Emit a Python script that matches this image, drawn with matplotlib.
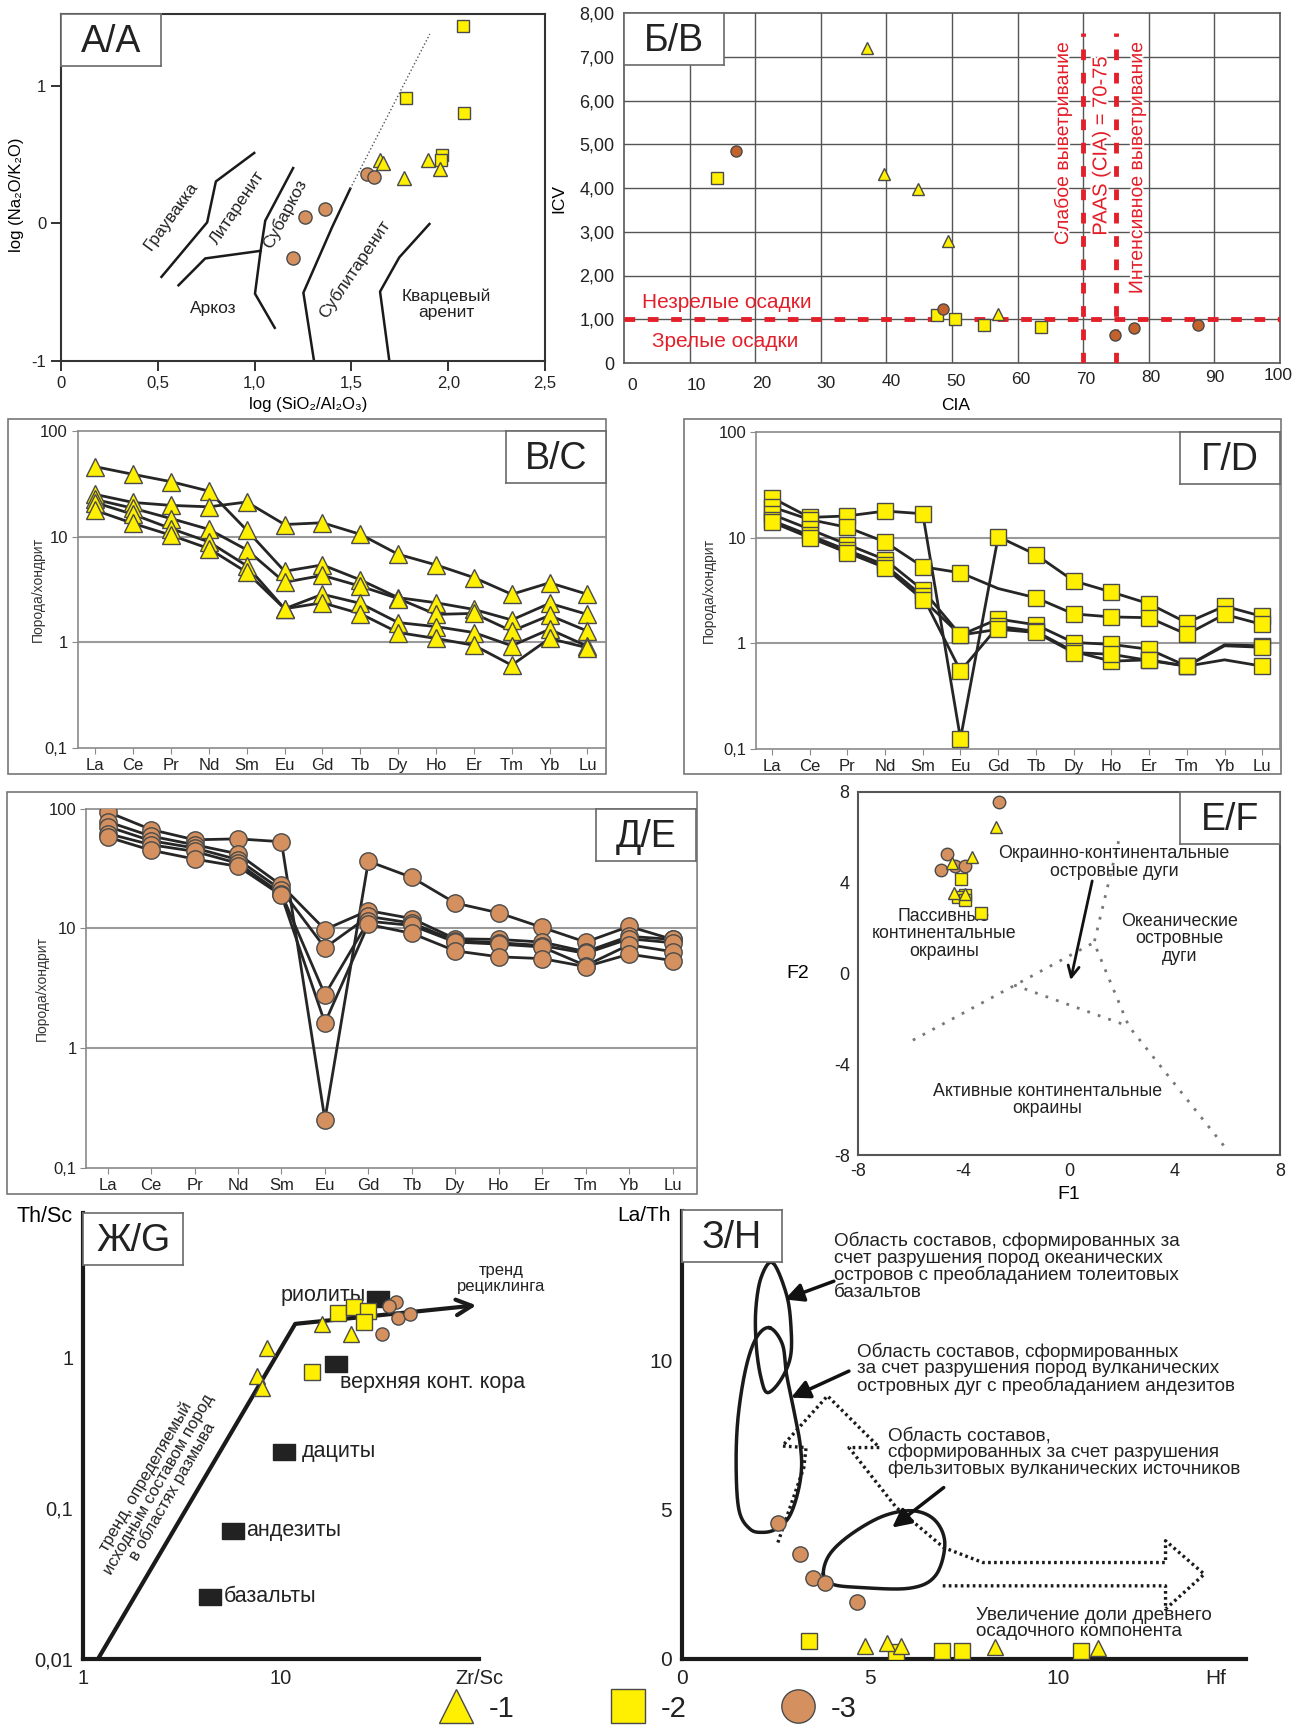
import numpy as np
import matplotlib
matplotlib.use('Agg')
import matplotlib.pyplot as plt
import matplotlib.patheffects as pe
from matplotlib.patches import Rectangle
from matplotlib.ticker import NullLocator

plt.rcParams['font.family'] = ['Liberation Sans', 'DejaVu Sans']

W, H = 1298, 1728
YELLOW = '#ffef00'
BROWN = '#d4915f'
RUST = '#c3622c'
MEC = '#4a4a4a'
RED = '#e3202a'
INK = '#222222'

# ---------------- data ----------------
# A: log(SiO2/Al2O3) vs log(Na2O/K2O)
pa_tri_x = [1.648, 1.662, 1.770, 1.895, 1.958]
pa_tri_y = [0.457, 0.438, 0.331, 0.462, 0.397]
pa_sq_x = [2.076, 1.784, 2.084, 1.968, 1.962]
pa_sq_y = [1.43, 0.912, 0.803, 0.494, 0.457]
pa_ci_x = [1.583, 1.617, 1.258, 1.366, 1.199]
pa_ci_y = [0.360, 0.336, 0.044, 0.105, -0.255]

# Б: CIA vs ICV
pb_tri_x = [37.0, 39.7, 44.8, 49.4, 57.0]
pb_tri_y = [7.19, 4.33, 3.98, 2.80, 1.11]
pb_sq_x = [14.2, 47.7, 50.5, 54.9, 63.5]
pb_sq_y = [4.22, 1.10, 1.00, 0.86, 0.82]
pb_ci_x = [17.0, 48.6, 74.9, 77.7, 87.5]
pb_ci_y = [4.85, 1.23, 0.65, 0.79, 0.87]

# REE spectra, chondrite normalised
REE = ['La', 'Ce', 'Pr', 'Nd', 'Sm', 'Eu', 'Gd', 'Tb', 'Dy', 'Ho', 'Er', 'Tm', 'Yb', 'Lu']
pc_1 = [45.7, 38.7, 33.0, 26.9, 11.5, 4.7, 5.4, 3.9, 2.65, 2.37, 2.05, 1.63, 2.34, 1.84]
pc_2 = [25.0, 21.0, 19.7, 19.1, 21.2, 13.0, 13.5, 10.5, 6.8, 5.4, 4.1, 2.85, 3.66, 2.85]
pc_3 = [22.4, 18.5, 14.8, 11.7, 7.5, 3.7, 4.3, 3.4, 2.6, 1.84, 1.88, 1.28, 1.80, 1.28]
pc_4 = [20.9, 16.2, 11.9, 8.9, 5.3, 2.08, 2.85, 2.34, 1.54, 1.41, 1.24, 0.93, 1.33, 0.92]
pc_5 = [17.7, 13.3, 10.3, 7.7, 4.6, 2.08, 2.37, 1.87, 1.24, 1.09, 0.94, 0.61, 1.09, 0.89]

pd_1 = [23.8, 15.5, 16.0, 17.8, 16.8, 0.126, 10.2, 6.9, 3.9, 3.06, 2.37, 1.57, 2.25, 1.80]
pd_2 = [19.5, 14.8, 12.5, 9.1, 5.3, 4.65, 3.3, 2.7, 1.9, 1.78, 1.75, 1.22, 1.88, 1.51]
pd_3 = [16.6, 12.0, 8.6, 6.2, 3.2, 1.2, 1.7, 1.5, 1.02, 0.98, 0.88, 0.61, 0.97, 0.95]
pd_4 = [14.5, 10.5, 7.6, 5.5, 2.8, 0.55, 1.45, 1.3, 0.84, 0.68, 0.70, 0.61, 0.70, 0.61]
pd_5 = [14.0, 10.0, 7.2, 5.2, 2.6, 1.2, 1.36, 1.27, 0.82, 0.79, 0.69, 0.61, 0.95, 0.92]
pd_nomark = [(1, 6), (2, 12), (3, 12), (4, 12)]

pe_1 = [94, 67, 55, 56, 53, 0.254, 36.4, 26.7, 16.3, 13.5, 10.2, 7.7, 10.4, 8.1]
pe_2 = [78, 59, 50, 42, 22.9, 9.8, 14.1, 12.1, 8.2, 8.1, 7.7, 6.4, 8.6, 8.1]
pe_3 = [71, 54, 47, 37.5, 21.0, 6.9, 12.6, 11.1, 7.9, 7.6, 7.2, 6.2, 8.2, 7.6]
pe_4 = [62, 50, 44, 35, 19.5, 2.8, 11.5, 10.6, 7.7, 7.4, 7.0, 4.9, 7.3, 6.4]
pe_5 = [58, 45, 38, 33, 18.9, 1.63, 10.8, 9.1, 6.5, 5.8, 5.6, 4.8, 6.1, 5.4]

# Е: discriminant functions F1-F2
pf_ci_x = [-2.64, -4.61, -4.85, -4.32, -3.94]
pf_ci_y = [7.55, 5.25, 4.56, 4.74, 4.74]
pf_tri_x = [-2.76, -4.42, -3.67, -4.36, -3.96]
pf_tri_y = [6.44, 4.88, 5.15, 3.53, 3.50]
pf_sq_x = [-4.10, -3.93, -4.19, -3.93, -3.34]
pf_sq_y = [4.15, 3.47, 3.35, 3.25, 2.65]

# Ж: Zr/Sc vs Th/Sc
pg_tri_x = [8.53, 7.59, 8.05, 16.1, 22.5]
pg_tri_y = [1.16, 0.756, 0.633, 1.68, 1.43]
pg_sq_x = [14.3, 19.5, 23.3, 27.4, 26.4]
pg_sq_y = [0.807, 1.97, 2.18, 2.04, 1.73]
pg_ci_x = [37.9, 35.1, 39.0, 45.0, 32.5]
pg_ci_y = [2.34, 2.22, 1.84, 1.96, 1.43]
pg_ref_names = ['риолиты', 'верхняя конт. кора', 'дациты', 'андезиты', 'базальты']
pg_ref_x = [31.0, 18.9, 10.4, 5.73, 4.36]
pg_ref_y = [2.47, 0.912, 0.238, 0.071, 0.0259]

# З: Hf vs La/Th
ph_ci_x = [2.55, 3.13, 3.49, 3.81, 4.65]
ph_ci_y = [4.57, 3.53, 2.71, 2.53, 1.90]
ph_sq_x = [3.39, 5.70, 6.91, 7.46, 10.6]
ph_sq_y = [0.59, 0.22, 0.28, 0.28, 0.26]
ph_tri_x = [4.88, 5.45, 5.82, 8.32, 11.07]
ph_tri_y = [0.45, 0.52, 0.45, 0.41, 0.36]

fig = plt.figure(figsize=(W / 100, H / 100), dpi=100)

# pixel canvas for frames and the legend
canvas = fig.add_axes([0, 0, 1, 1])
canvas.set_xlim(0, W)
canvas.set_ylim(H, 0)
canvas.axis('off')


def px_axes(x0, y0, x1, y1):
    return fig.add_axes([x0 / W, 1 - y1 / H, (x1 - x0) / W, (y1 - y0) / H])


def tag(x0, y0, text):
    t = px_axes(x0, y0, x0 + 100, y0 + 52)
    t.set_xticks([])
    t.set_yticks([])
    for s in t.spines.values():
        s.set_color('#6a6a6a')
        s.set_linewidth(1.2)
    t.text(0.5, 0.47, text, ha='center', va='center', fontsize=27, color=INK,
           transform=t.transAxes)


def pts(ax, x, y, marker, ms, fc, **kw):
    ax.plot(x, y, ls='none', marker=marker, ms=ms, mfc=fc, mec=MEC, mew=1, **kw)


def closed_curve(p, n=16):
    p = np.asarray(p, float)
    m = len(p)
    t = np.linspace(0, 1, n, endpoint=False)[:, None]
    out = []
    for i in range(m):
        p0, p1, p2, p3 = p[i - 1], p[i], p[(i + 1) % m], p[(i + 2) % m]
        out.append(0.5 * (2 * p1 + (-p0 + p2) * t + (2 * p0 - 5 * p1 + 4 * p2 - p3) * t ** 2
                          + (-p0 + 3 * p1 - 3 * p2 + p3) * t ** 3))
    out = np.vstack(out)
    return np.vstack([out, out[:1]])


# ---------------- A ----------------
ax = px_axes(61, 14, 545, 361)
ax.set_xlim(0, 2.5)
ax.set_ylim(-1, 1.52)
for s in ax.spines.values():
    s.set_linewidth(1.5)
    s.set_color('#333')
ax.set_xticks([0, 0.5, 1, 1.5, 2, 2.5], ['0', '0,5', '1,0', '1,5', '2,0', '2,5'])
ax.set_yticks([-1, 0, 1], ['-1', '0', '1'])
ax.tick_params(direction='out', length=7, width=1.3, labelsize=12, colors='#222')
ax.set_xlabel('log (SiO₂/Al₂O₃)', fontsize=12)
ax.set_ylabel('log (Na₂O/K₂O)', fontsize=12)
ax.xaxis.set_label_coords(0.51, -0.105)
ax.yaxis.set_label_coords(-0.076, 0.48)
bounds = [
    [(0.519, -0.389), (0.755, 0.007), (0.800, 0.304), (0.998, 0.511)],
    [(1.199, 0.401), (1.055, 0.019), (1.031, -0.200), (1.002, -0.511), (1.104, -0.759)],
    [(0.607, -0.450), (0.745, -0.255), (1.031, -0.200)],
    [(1.494, 0.251), (1.400, -0.029), (1.252, -0.504), (1.307, -1.0)],
    [(1.903, -0.005), (1.747, -0.248), (1.648, -0.496), (1.696, -1.0)],
]
for b in bounds:
    bx, by = zip(*b)
    ax.plot(bx, by, color='#1a1a1a', lw=1.8)
ax.plot([1.494, 1.905], [0.251, 1.375], color='#555', lw=1, ls=':')
for txt, x, y, rot in [('Граувакка', 0.568, 0.056, 54), ('Литаренит', 0.913, 0.117, 56),
                       ('Субаркоз', 1.155, 0.068, 62), ('Сублитаренит', 1.514, -0.333, 56)]:
    ax.text(x, y, txt, rotation=rot, ha='center', va='center', fontsize=12.5,
            rotation_mode='anchor', color=INK)
ax.text(0.785, -0.618, 'Аркоз', ha='center', va='center', fontsize=12.5, color=INK)
ax.text(1.991, -0.589, 'Кварцевый\nаренит', ha='center', va='center', fontsize=12.5,
        linespacing=1.05, color=INK)
pts(ax, pa_sq_x, pa_sq_y, 's', 8.7, YELLOW, zorder=4)
pts(ax, pa_tri_x, pa_tri_y, '^', 10.5, YELLOW, zorder=4)
pts(ax, pa_ci_x, pa_ci_y, 'o', 9.5, BROWN, zorder=4)
tag(61, 14, 'А/A')

# ---------------- Б ----------------
ax = px_axes(624, 13, 1280, 363)
ax.set_xlim(0, 100)
ax.set_ylim(0, 8)
for v in range(10, 100, 10):
    ax.axvline(v, color='#555', lw=1, zorder=1)
for v in range(1, 8):
    ax.axhline(v, color='#555', lw=1, zorder=1)
for s in ax.spines.values():
    s.set_color('#555')
    s.set_linewidth(1.2)
ax.set_xticks([])
ax.set_yticks(range(0, 9), ['0'] + ['%d,00' % v for v in range(1, 9)])
ax.tick_params(length=0, labelsize=13, pad=7, colors='#222')
for v in range(0, 101, 10):
    ax.annotate(str(v), xy=(v, 0), xycoords=('data', 'axes fraction'),
                xytext=(8 * (1 - v / 100) - 2 * (v == 100), -23 + 10 * v / 100),
                textcoords='offset pixels', ha='center', va='center', fontsize=12.5, color='#222')
ax.text(0.505, -0.12, 'CIA', transform=ax.transAxes, ha='center', va='center', fontsize=12.5)
ax.set_ylabel('ICV', fontsize=12.5)
ax.yaxis.set_label_coords(-0.088, 0.47)
ax.axhline(1, color=RED, lw=3.5, dashes=(2.2, 2.6), zorder=5)
for v in (70, 75):
    ax.plot([v, v], [0, 7.55], color=RED, lw=3.5, dashes=(2.2, 2.6), zorder=5)
ax.text(15.7, 1.38, 'Незрелые осадки', color=RED, fontsize=15, ha='center', va='center')
ax.text(15.4, 0.50, 'Зрелые осадки', color=RED, fontsize=15, ha='center', va='center')
halo = [pe.withStroke(linewidth=3, foreground='white')]
ax.text(66.9, 5.03, 'Слабое выветривание', color=RED, fontsize=14, rotation=90,
        ha='center', va='center', path_effects=halo, zorder=4)
ax.text(72.7, 4.95, 'PAAS (CIA) = 70-75', color=RED, fontsize=14.5, rotation=90,
        ha='center', va='center', path_effects=halo, zorder=4)
ax.text(78.3, 4.48, 'Интенсивное выветривание', color=RED, fontsize=14, rotation=90,
        ha='center', va='center', path_effects=halo, zorder=4)
pts(ax, pb_tri_x, pb_tri_y, '^', 8, YELLOW, zorder=6)
pts(ax, pb_sq_x, pb_sq_y, 's', 8, YELLOW, zorder=6)
pts(ax, pb_ci_x, pb_ci_y, 'o', 8, RUST, zorder=6)
tag(624, 13, 'Б/В')


# ---------------- REE panels ----------------
def ree_panel(box, xlim, series, marker, ms, fc, ylab_x, nomark=()):
    ax = px_axes(*box)
    x = np.arange(len(REE))
    for s in series:
        ax.plot(x, s, color='#262626', lw=2, zorder=3)
    for i, s in enumerate(series):
        keep = [j for j in range(len(REE)) if (i, j) not in nomark]
        pts(ax, x[keep], np.asarray(s)[keep], marker, ms, fc, zorder=4)
    ax.set_yscale('log')
    ax.set_ylim(0.1, 100)
    ax.set_xlim(*xlim)
    ax.set_yticks([0.1, 1, 10, 100], ['0,1', '1', '10', '100'])
    ax.yaxis.set_minor_locator(NullLocator())
    ax.set_xticks(x, REE)
    for v in (1, 10):
        ax.axhline(v, color='#9a9a9a', lw=1.5, zorder=1)
    for s in ax.spines.values():
        s.set_color('#8a8a8a')
        s.set_linewidth(1.2)
    ax.tick_params(length=4, color='#8a8a8a', labelsize=12, pad=3, labelcolor='#222')
    ax.set_ylabel('Порода/хондрит', fontsize=10, color='#333')
    ax.yaxis.set_label_coords(ylab_x, 0.5)
    return ax


canvas.add_patch(Rectangle((8, 419), 598, 355, fill=False, ec='#777', lw=1.2))
ree_panel((77.5, 430.7, 606, 748.3), (-0.47, 13.49), [pc_1, pc_2, pc_3, pc_4, pc_5],
          '^', 12.5, YELLOW, -0.062)
tag(506, 431, 'В/C')

canvas.add_patch(Rectangle((684, 419.3), 597, 354.7, fill=False, ec='#777', lw=1.2))
ree_panel((756, 431.7, 1280, 749.3), (-0.42, 13.47), [pd_1, pd_2, pd_3, pd_4, pd_5],
          's', 12, YELLOW, -0.076, nomark=pd_nomark)
tag(1180, 432, 'Г/D')

canvas.add_patch(Rectangle((7.3, 792), 689.2, 402, fill=False, ec='#777', lw=1.2))
ree_panel((86.3, 808.7, 696.5, 1168), (-0.49, 13.55), [pe_1, pe_2, pe_3, pe_4, pe_5],
          'o', 12.5, BROWN, -0.061)
tag(596, 809, 'Д/E')

# ---------------- Е ----------------
ax = px_axes(858, 792, 1280, 1155)
ax.set_xlim(-8, 8)
ax.set_ylim(-8, 8)
for s in ax.spines.values():
    s.set_color('#555')
    s.set_linewidth(1.5)
ticks = [-8, -4, 0, 4, 8]
ax.set_xticks(ticks, [str(v) for v in ticks])
ax.set_yticks(ticks, [str(v) for v in ticks])
ax.tick_params(which='major', length=0, labelsize=13, pad=6, labelcolor='#222')
ax.set_xticks([-4, 0, 4], minor=True)
ax.set_yticks([-4, 0, 4], minor=True)
ax.tick_params(which='minor', direction='in', length=8, width=3.5, color='#111')
ax.set_xlabel('F1', fontsize=14)
ax.xaxis.set_label_coords(0.5, -0.085)
ax.set_ylabel('F2', fontsize=14, rotation=0, va='center')
ax.yaxis.set_label_coords(-0.142, 0.5)
for seg in [[(-5.92, -2.94), (0.97, 1.38)],
            [(1.88, 5.83), (0.95, 1.35), (2.27, -2.33), (5.91, -7.65)],
            [(-2.08, -0.51), (2.27, -2.33)]]:
    sx, sy = zip(*seg)
    ax.plot(sx, sy, color='#777', lw=2, dashes=(1, 3))
ax.annotate('', xy=(0.06, -0.29), xytext=(0.88, 4.08),
            arrowprops=dict(arrowstyle='->', lw=2, color='#111', mutation_scale=20,
                            shrinkA=0, shrinkB=0))
etxt = dict(ha='center', va='center', fontsize=12.8, linespacing=1.05, color=INK)
ax.text(1.71, 4.88, 'Окраинно-континентальные\nостровные дуги', **etxt)
ax.text(-4.75, 1.75, 'Пассивные\nконтинентальные\nокраины', **etxt)
ax.text(4.18, 1.53, 'Океанические\nостровные\nдуги', **etxt)
ax.text(-0.81, -5.57, 'Активные континентальные\nокраины', **etxt)
pts(ax, pf_ci_x, pf_ci_y, 'o', 9, BROWN, zorder=4)
pts(ax, pf_sq_x, pf_sq_y, 's', 8, YELLOW, zorder=4)
pts(ax, pf_tri_x, pf_tri_y, '^', 9, YELLOW, zorder=4)
tag(1180, 792, 'Е/F')

# ---------------- Ж ----------------
ax = px_axes(83, 1213, 479, 1659)
ax.set_xscale('log')
ax.set_yscale('log')
ax.set_xlim(1, 100)
ax.set_ylim(0.01, 9.15)
ax.spines[['top', 'right']].set_visible(False)
for s in ('left', 'bottom'):
    ax.spines[s].set_linewidth(3)
    ax.spines[s].set_color('#1a1a1a')
ax.xaxis.set_minor_locator(NullLocator())
ax.yaxis.set_minor_locator(NullLocator())
ax.set_xticks([1, 10, 100], ['1', '10', 'Zr/Sc'])
ax.set_yticks([0.01, 0.1, 1], ['0,01', '0,1', '1'])
ax.tick_params(length=0, labelsize=14.5, pad=7, labelcolor='#222')
ax.text(-0.025, 0.993, 'Th/Sc', transform=ax.transAxes, ha='right', va='center', fontsize=15.5)
ax.plot([1.19, 11.8], [0.01, 1.68], color='#1a1a1a', lw=3, solid_capstyle='butt')
ax.annotate('', xy=(97, 2.23), xytext=(11.8, 1.68),
            arrowprops=dict(arrowstyle='->', lw=3, color='#1a1a1a', mutation_scale=28,
                            shrinkA=0, shrinkB=0))
ax.text(129, 3.36, 'тренд\nрециклинга', ha='center', va='center', fontsize=12,
        linespacing=1.1, color=INK)
ax.text(2.42, 0.145, 'тренд, определяемый\nисходным составом пород\nв областях размыва',
        rotation=60, rotation_mode='anchor', ha='center', va='center', fontsize=12,
        linespacing=1.0, color=INK)
RECT = [(-1.45, -1), (1.45, -1), (1.45, 1), (-1.45, 1), (-1.45, -1)]
ax.plot(pg_ref_x, pg_ref_y, ls='none', marker=RECT, ms=16, mfc='#222', mec='#222', zorder=4)
label_pos = [(26.7, 2.59, 'right'), (19.9, 0.69, 'left'), (12.7, 0.238, 'left'),
             (6.65, 0.071, 'left'), (5.11, 0.0259, 'left')]
for name, (lx, ly, ha) in zip(pg_ref_names, label_pos):
    ax.text(lx, ly, name, ha=ha, va='center', fontsize=15.5, color=INK)
pts(ax, pg_tri_x, pg_tri_y, '^', 11, YELLOW, zorder=5)
pts(ax, pg_sq_x, pg_sq_y, 's', 11, YELLOW, zorder=5)
pts(ax, pg_ci_x, pg_ci_y, 'o', 9.5, BROWN, zorder=5)
tag(83, 1213, 'Ж/G')

# ---------------- З ----------------
ax = px_axes(682, 1211, 1246, 1659)
ax.set_xlim(0, 15)
ax.set_ylim(0, 15)
ax.spines[['top', 'right']].set_visible(False)
for s in ('left', 'bottom'):
    ax.spines[s].set_linewidth(3)
    ax.spines[s].set_color('#1a1a1a')
ax.set_xticks([0, 5, 10, 14.2], ['0', '5', '10', 'Hf'])
ax.set_yticks([0, 5, 10], ['0', '5', '10'])
ax.tick_params(length=0, labelsize=15, pad=7, labelcolor='#222')
ax.text(-0.02, 0.99, 'La/Th', transform=ax.transAxes, ha='right', va='center', fontsize=15)

oceanic = [(2.41, 13.27), (2.78, 12.2), (2.90, 11.09), (2.88, 10.09), (2.61, 9.31),
           (2.27, 8.92), (2.10, 9.42), (1.98, 10.42), (1.96, 11.65), (2.10, 12.76)]
andesite = [(2.33, 11.09), (2.67, 10.54), (2.78, 9.53), (2.96, 8.42), (3.13, 7.30),
            (3.18, 6.41), (3.07, 5.52), (2.84, 4.74), (2.50, 4.35), (2.15, 4.24),
            (1.81, 4.35), (1.52, 4.96), (1.44, 6.41), (1.49, 8.08), (1.70, 9.75), (1.98, 10.76)]
felsic = [(3.76, 2.84), (3.99, 2.51), (4.67, 2.40), (6.05, 2.37), (6.74, 2.79), (6.99, 3.85),
          (6.74, 4.63), (6.16, 4.96), (5.36, 4.79), (4.50, 4.18), (3.93, 3.51)]
for field in (oceanic, andesite, felsic):
    c = closed_curve(field)
    ax.plot(c[:, 0], c[:, 1], color='#1a1a1a', lw=2.5)

trend = [(2.55, 3.90), (3.24, 6.41), (3.30, 7.08), (2.67, 7.13), (3.87, 8.81), (5.25, 7.08),
         (4.44, 7.08), (5.70, 5.07), (6.96, 3.73), (8.00, 3.23), (12.86, 3.23), (12.86, 3.96),
         (13.89, 2.84), (12.86, 1.67), (12.86, 2.45), (6.85, 2.45)]
tx, ty = zip(*trend)
ax.plot(tx, ty, color='#1a1a1a', lw=2.4, dashes=(0.8, 1.0))

for tail, head in [((4.04, 12.65), (2.73, 12.04)), ((4.44, 9.64), (2.90, 8.75)),
                   ((6.96, 5.74), (5.59, 4.40))]:
    ax.annotate('', xy=head, xytext=tail,
                arrowprops=dict(arrowstyle='-|>', lw=2.5, color='#111', mutation_scale=28,
                                shrinkA=0, shrinkB=0))

ztxt = dict(ha='left', va='top', fontsize=13.6, linespacing=0.96, color=INK)
ax.text(4.05, 14.3, 'Область составов, сформированных за\nсчет разрушения пород океанических\n'
        'островов с преобладанием толеитовых\nбазальтов', **ztxt)
ax.text(4.65, 10.6, 'Область составов, сформированных\nза счет разрушения пород вулканических\n'
        'островных дуг с преобладанием андезитов', **ztxt)
ax.text(5.48, 7.75, 'Область составов,\nсформированных за счет разрушения\n'
        'фельзитовых вулканических источников', **ztxt)
ax.text(7.82, 1.75, 'Увеличение доли древнего\nосадочного компонента', **ztxt)
pts(ax, ph_ci_x, ph_ci_y, 'o', 11, BROWN, zorder=5)
pts(ax, ph_sq_x, ph_sq_y, 's', 11, YELLOW, zorder=5)
pts(ax, ph_tri_x, ph_tri_y, '^', 11, YELLOW, zorder=5)
tag(682, 1210, 'З/H')

# ---------------- legend ----------------
for (mx, mk, fc, lab) in [(456, '^', YELLOW, '-1'), (628, 's', YELLOW, '-2'), (798, 'o', BROWN, '-3')]:
    canvas.plot([mx], [1706], marker=mk, ms=24, mfc=fc, mec=MEC, mew=1, ls='none')
    canvas.text(mx + 33, 1709, lab, fontsize=21, ha='left', va='center', color=INK)

fig.savefig('out.png', dpi=100)
